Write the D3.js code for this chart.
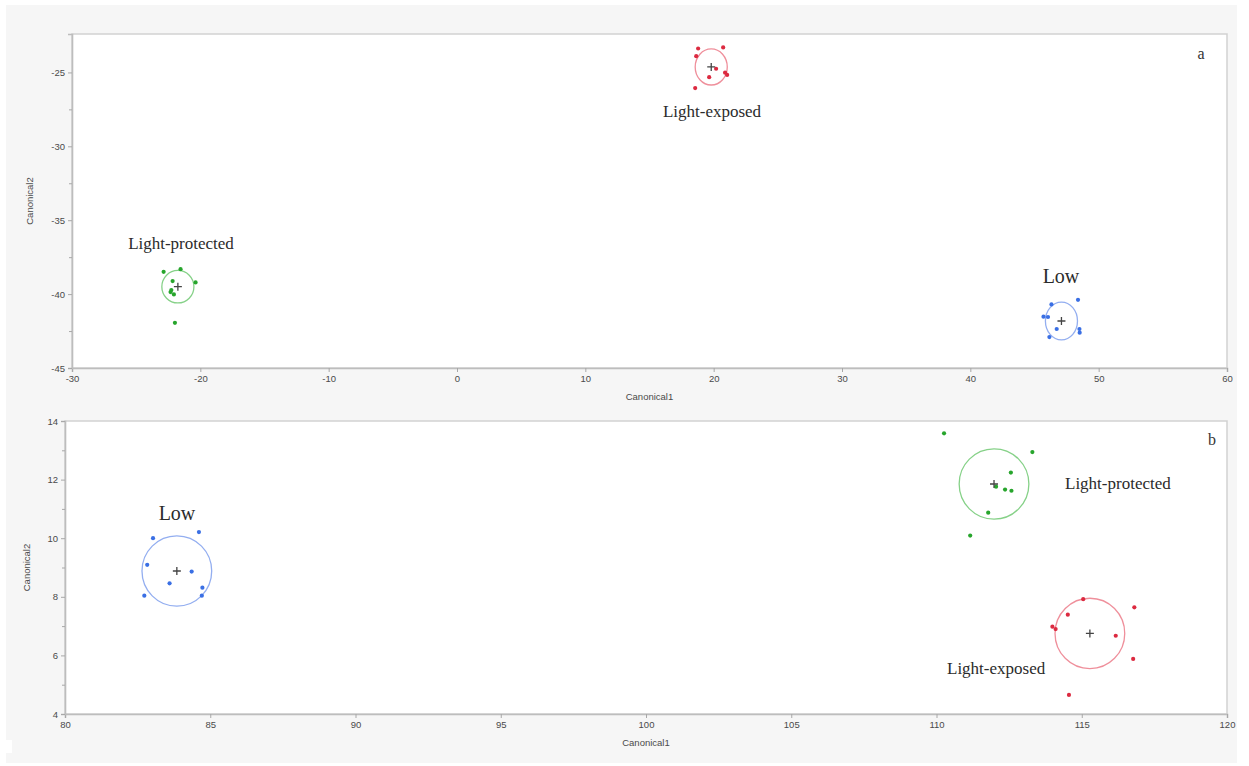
<!DOCTYPE html>
<html>
<head>
<meta charset="utf-8">
<script src="https://cdn.jsdelivr.net/npm/d3@7/dist/d3.min.js"></script>
<style>
  html, body { margin: 0; padding: 0; background: #ffffff; }
  svg { display: block; }
</style>
</head>
<body>
<svg id="chart" width="1249" height="766"></svg>
<script>
// ---- Panel a: canonical scores ----
const aXTicks = [-30, -20, -10, 0, 10, 20, 30, 40, 50, 60];
const aYTicks = [-45, -40, -35, -30, -25];
const aYMinor = [-42.5, -37.5, -32.5, -27.5];

const aExposedC1 = [18.79, 20.74, 18.64, 20.19, 20.89, 21.05, 19.65, 18.56];
const aExposedC2 = [-23.38, -23.31, -23.90, -24.75, -25.02, -25.17, -25.32, -26.06];
const aExposedMean = [19.81, -24.63];
const aExposedRadius = [1.25, 1.22];

const aProtectedC1 = [-22.86, -21.54, -20.37, -22.16, -22.32, -22.06, -22.26, -21.98];
const aProtectedC2 = [-38.49, -38.31, -39.21, -39.12, -39.86, -40.02, -39.73, -41.94];
const aProtectedMean = [-21.75, -39.50];
const aProtectedRadius = [1.25, 1.10];

const aLowC1 = [46.32, 48.39, 45.70, 46.05, 46.73, 46.16, 48.50, 48.52];
const aLowC2 = [-40.70, -40.39, -41.53, -41.55, -42.36, -42.91, -42.36, -42.61];
const aLowMean = [47.10, -41.82];
const aLowRadius = [1.25, 1.28];

// ---- Panel b: canonical scores ----
const bXTicks = [80, 85, 90, 95, 100, 105, 110, 115, 120];
const bYTicks = [4, 6, 8, 10, 12, 14];
const bYMinor = [5, 7, 9, 11, 13];

const bLowC1 = [83.03, 84.61, 82.83, 84.36, 83.60, 82.73, 84.73, 84.71];
const bLowC2 = [10.00, 10.21, 9.09, 8.86, 8.46, 8.04, 8.31, 8.04];
const bLowMean = [83.85, 8.88];
const bLowRadius = [1.2, 1.2];

const bProtectedC1 = [110.26, 113.30, 112.56, 112.05, 112.36, 112.58, 111.78, 111.16];
const bProtectedC2 = [13.58, 12.94, 12.24, 11.76, 11.66, 11.62, 10.87, 10.09];
const bProtectedMean = [111.98, 11.85];
const bProtectedRadius = [1.2, 1.2];

const bExposedC1 = [115.05, 114.52, 113.99, 114.10, 116.17, 116.81, 116.77, 114.56];
const bExposedC2 = [7.92, 7.39, 6.98, 6.90, 6.67, 7.64, 5.88, 4.65];
const bExposedMean = [115.28, 6.75];
const bExposedRadius = [1.2, 1.2];

// group colours: point fill, confidence circle stroke
const groupColors = {
  exposed:   { dot: "#dc2a40", ring: "#ef8f9b" },
  protected: { dot: "#27a52c", ring: "#86d188" },
  low:       { dot: "#3a6fe4", ring: "#93aef0" }
};

const svg = d3.select("#chart");

// sheet background
svg.append("rect").attr("x", 0).attr("y", 0).attr("width", 1249).attr("height", 766).attr("fill", "#ffffff");
svg.append("rect").attr("x", 6).attr("y", 5).attr("width", 1231).attr("height", 758).attr("fill", "#f6f6f6");
svg.append("rect").attr("x", 0).attr("y", 740).attr("width", 12).attr("height", 13).attr("fill", "#ffffff");

const tickFont = "'Liberation Sans', Arial, sans-serif";
const serif = "'Liberation Serif', 'Times New Roman', serif";
// plain hyphen-minus for negative tick labels
const plainNum = d => String(d);

function drawPanel(cfg) {
  const x = d3.scaleLinear().domain(cfg.xDomain).range([cfg.left, cfg.right]);
  const y = d3.scaleLinear().domain(cfg.yDomain).range([cfg.bottom, cfg.top]);
  const g = svg.append("g");

  // plot frame
  g.append("rect")
    .attr("x", cfg.left).attr("y", cfg.top)
    .attr("width", cfg.right - cfg.left).attr("height", cfg.bottom - cfg.top)
    .attr("fill", "#ffffff").attr("stroke", "#d2d2d2").attr("stroke-width", 1.5);

  // axes
  const xAxis = d3.axisBottom(x).tickValues(cfg.xTicks).tickSize(4).tickPadding(3).tickFormat(plainNum);
  const yAxis = d3.axisLeft(y).tickValues(cfg.yTicks).tickSize(4).tickPadding(3).tickFormat(plainNum);
  const yMinorAxis = d3.axisLeft(y).tickValues(cfg.yMinor).tickSize(3).tickFormat("");

  const gx = g.append("g").attr("transform", `translate(0,${cfg.bottom})`).call(xAxis);
  const gy = g.append("g").attr("transform", `translate(${cfg.left},0)`).call(yAxis);
  const gym = g.append("g").attr("transform", `translate(${cfg.left},0)`).call(yMinorAxis);
  gym.select(".domain").remove();
  [gx, gy, gym].forEach(a => {
    a.select(".domain").attr("stroke", "#bdbdbd").attr("stroke-width", 1.6);
    a.selectAll(".tick line").attr("stroke", "#a8a8a8");
    a.selectAll(".tick text").attr("fill", "#4a4a4a").attr("font-size", 9.5).attr("font-family", tickFont);
  });

  // axis titles
  g.append("text")
    .attr("x", (cfg.left + cfg.right) / 2).attr("y", cfg.bottom + 32)
    .attr("text-anchor", "middle").attr("font-size", 9.5).attr("font-family", tickFont).attr("fill", "#4a4a4a")
    .text("Canonical1");
  g.append("text")
    .attr("transform", `translate(${cfg.ytitleX},${(cfg.top + cfg.bottom) / 2}) rotate(-90)`)
    .attr("text-anchor", "middle").attr("font-size", 9.5).attr("font-family", tickFont).attr("fill", "#4a4a4a")
    .text("Canonical2");

  // groups
  cfg.groups.forEach(grp => {
    const col = groupColors[grp.key];
    const cx = x(grp.mean[0]), cy = y(grp.mean[1]);
    g.append("ellipse")
      .attr("cx", cx).attr("cy", cy)
      .attr("rx", Math.abs(x(grp.mean[0] + grp.radius[0]) - cx))
      .attr("ry", Math.abs(y(grp.mean[1] + grp.radius[1]) - cy))
      .attr("fill", "none").attr("stroke", col.ring).attr("stroke-width", 1.3);

    const pts = grp.c1.map((v, i) => [v, grp.c2[i]]);
    g.selectAll(null).data(pts).enter().append("circle")
      .attr("cx", d => x(d[0])).attr("cy", d => y(d[1]))
      .attr("r", 2.1).attr("fill", col.dot);

    // group mean marker
    const s = 4;
    g.append("path")
      .attr("d", `M${cx - s},${cy}H${cx + s}M${cx},${cy - s}V${cy + s}`)
      .attr("stroke", "#444").attr("stroke-width", 1.3).attr("fill", "none");
  });

  // group labels
  cfg.labels.forEach(l => {
    g.append("text")
      .attr("x", l.x).attr("y", l.y).attr("text-anchor", l.anchor || "middle")
      .attr("font-family", serif).attr("font-size", l.size).attr("fill", "#2b2b2b")
      .text(l.text);
  });

  // panel letter
  g.append("text")
    .attr("x", cfg.letterX).attr("y", cfg.letterY).attr("text-anchor", "middle")
    .attr("font-family", serif).attr("font-size", 16).attr("fill", "#333")
    .text(cfg.letter);
}

drawPanel({
  left: 72, right: 1227, top: 34, bottom: 368, ytitleX: 33,
  xDomain: [-30, 60], yDomain: [-45, -22.4],
  xTicks: aXTicks, yTicks: aYTicks, yMinor: aYMinor,
  groups: [
    { key: "exposed", c1: aExposedC1, c2: aExposedC2, mean: aExposedMean, radius: aExposedRadius },
    { key: "protected", c1: aProtectedC1, c2: aProtectedC2, mean: aProtectedMean, radius: aProtectedRadius },
    { key: "low", c1: aLowC1, c2: aLowC2, mean: aLowMean, radius: aLowRadius }
  ],
  labels: [
    { text: "Light-exposed", x: 712, y: 117, size: 17 },
    { text: "Light-protected", x: 181, y: 249, size: 17 },
    { text: "Low", x: 1061, y: 283, size: 20 }
  ],
  letter: "a", letterX: 1201, letterY: 59
});

drawPanel({
  left: 65, right: 1227, top: 421, bottom: 714, ytitleX: 30,
  xDomain: [80, 120], yDomain: [4, 14],
  xTicks: bXTicks, yTicks: bYTicks, yMinor: bYMinor,
  groups: [
    { key: "low", c1: bLowC1, c2: bLowC2, mean: bLowMean, radius: bLowRadius },
    { key: "protected", c1: bProtectedC1, c2: bProtectedC2, mean: bProtectedMean, radius: bProtectedRadius },
    { key: "exposed", c1: bExposedC1, c2: bExposedC2, mean: bExposedMean, radius: bExposedRadius }
  ],
  labels: [
    { text: "Low", x: 177, y: 520, size: 20 },
    { text: "Light-protected", x: 1065, y: 489, size: 17, anchor: "start" },
    { text: "Light-exposed", x: 947, y: 674, size: 17, anchor: "start" }
  ],
  letter: "b", letterX: 1212, letterY: 445
});
</script>
</body>
</html>
